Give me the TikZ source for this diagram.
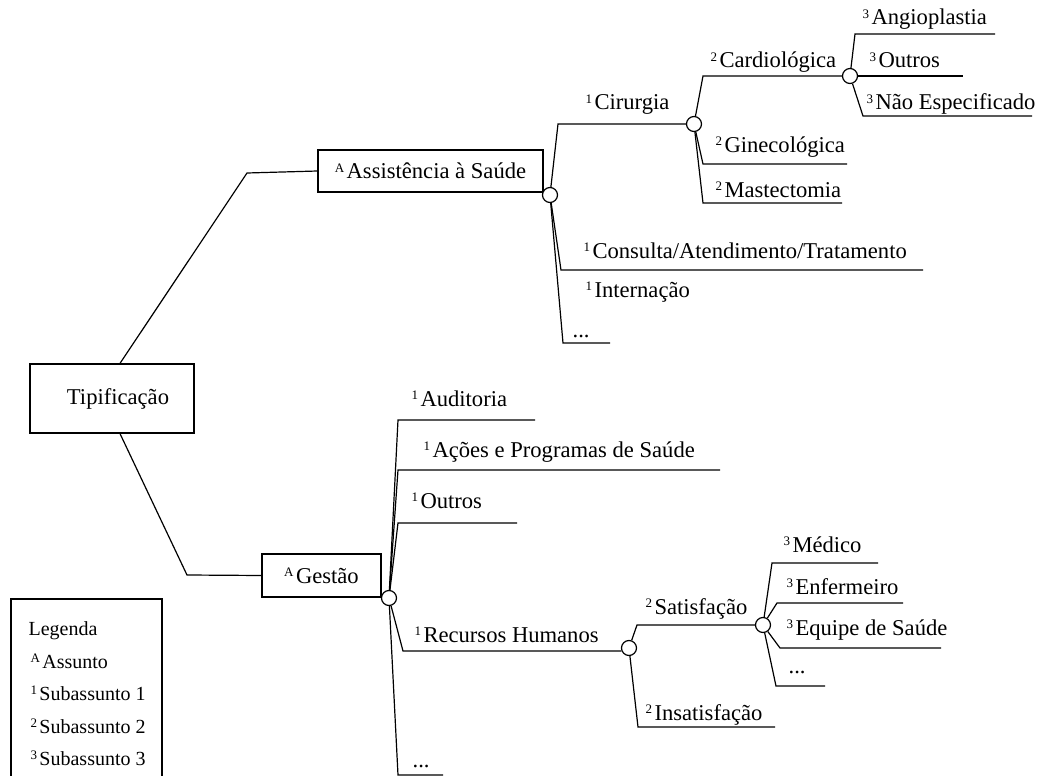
\documentclass[tikz,border=0pt]{standalone}
\usepackage{fontspec}
\setmainfont{Liberation Serif}
\usepackage{tikz}

\newcommand{\lvl}[1]{\raisebox{0.6ex}{\fontsize{6.5}{7}\selectfont #1}\kern1.2pt}

\begin{document}
\begin{tikzpicture}[x=0.5pt, y=-0.5pt, line width=0.6pt,
    font=\fontsize{11.3}{14}\selectfont,
    box/.style={draw, inner sep=0pt},
    junct/.style={draw, circle, fill=white, inner sep=0pt, minimum size=7.5pt},
    lbl/.style={anchor=base west, inner sep=0pt}]
        \useasboundingbox (0,0) rectangle (1041,776);
        % boxes
        \node[box, minimum width=82pt, minimum height=34.5pt] (tip) at (112,398.5) {\hspace*{6pt}Tipificação};
        \node[box, minimum width=112.5pt, minimum height=21pt] (asa) at (430.5,171) {\lvl{A}Assistência à Saúde};
        \node[box, minimum width=59.5pt, minimum height=21.5pt] (ges) at (321.5,575.5) {\lvl{A}Gestão};
        % junctions
        \node[junct] (c-asa) at (550,195) {};
        \node[junct] (c-cir) at (694,124) {};
        \node[junct] (c-car) at (850,76) {};
        \node[junct] (c-ges) at (389,598) {};
        \node[junct] (c-rh) at (629,648) {};
        \node[junct] (c-sat) at (763,625) {};
        % bends and line ends
        \coordinate (k-asa) at (247,173);
        \coordinate (k-ges) at (187,575);
        \coordinate (k-cir) at (558,124);
        \coordinate (k-con) at (561,270);
        \coordinate (u-con) at (923,270);
        \coordinate (k-dots1) at (563,343);
        \coordinate (u-dots1) at (610,343);
        \coordinate (k-car) at (703,76);
        \coordinate (k-gin) at (703,164);
        \coordinate (u-gin) at (847,164);
        \coordinate (k-mas) at (703,203);
        \coordinate (u-mas) at (842,203);
        \coordinate (k-ang) at (855,34);
        \coordinate (u-ang) at (995,34);
        \coordinate (u-out3) at (963,76);
        \coordinate (k-nao) at (863,116);
        \coordinate (u-nao) at (1032,116);
        \coordinate (k-aud) at (398,420);
        \coordinate (u-aud) at (535,420);
        \coordinate (k-aco) at (398,470);
        \coordinate (u-aco) at (720,470);
        \coordinate (k-out1) at (398,523);
        \coordinate (u-out1) at (517,523);
        \coordinate (k-rh) at (403,651);
        \coordinate (k-dots2) at (398,775);
        \coordinate (u-dots2) at (443,775);
        \coordinate (k-sat) at (637,625);
        \coordinate (k-ins) at (638,727);
        \coordinate (u-ins) at (775,727);
        \coordinate (k-med) at (772,563);
        \coordinate (u-med) at (878,563);
        \coordinate (k-enf) at (777,603);
        \coordinate (u-enf) at (903,603);
        \coordinate (k-equ) at (780,648);
        \coordinate (u-equ) at (941,648);
        \coordinate (k-dots3) at (776,686);
        \coordinate (u-dots3) at (825,686);
        % connectors
        \draw ([xshift=4pt]tip.north) -- (k-asa) -- (asa.west);
        \draw ([xshift=4pt]tip.south) -- (k-ges) -- (ges.west);
        \draw (c-asa) -- (k-cir) -- (c-cir);
        \draw (c-asa) -- (k-con) -- (u-con);
        \draw (c-asa) -- (k-dots1) -- (u-dots1);
        \draw (c-cir) -- (k-car) -- (c-car);
        \draw (c-cir) -- (k-gin) -- (u-gin);
        \draw (c-cir) -- (k-mas) -- (u-mas);
        \draw (c-car) -- (k-ang) -- (u-ang);
        \draw (c-car) -- (u-out3);
        \draw (c-car) -- (k-nao) -- (u-nao);
        \draw (c-ges) -- (k-aud) -- (u-aud);
        \draw (c-ges) -- (k-aco) -- (u-aco);
        \draw (c-ges) -- (k-out1) -- (u-out1);
        \draw (c-ges) -- (k-rh) -- (c-rh.202);
        \draw (c-ges) -- (k-dots2) -- (u-dots2);
        \draw (c-rh) -- (k-sat) -- (c-sat);
        \draw (c-rh) -- (k-ins) -- (u-ins);
        \draw (c-sat) -- (k-med) -- (u-med);
        \draw (c-sat) -- (k-enf) -- (u-enf);
        \draw (c-sat) -- (k-equ) -- (u-equ);
        \draw (c-sat) -- (k-dots3) -- (u-dots3);
        % labels
        \node[lbl] (t-cir) at (585,110) {\lvl{1}Cirurgia};
        \node[lbl] (t-car) at (710,68) {\lvl{2}Cardiológica};
        \node[lbl] (t-gin) at (715,152) {\lvl{2}Ginecológica};
        \node[lbl] (t-mas) at (715,197) {\lvl{2}Mastectomia};
        \node[lbl] (t-ang) at (862,25) {\lvl{3}Angioplastia};
        \node[lbl] (t-out3) at (869,68) {\lvl{3}Outros};
        \node[lbl] (t-nao) at (866,110) {\lvl{3}Não Especificado};
        \node[lbl] (t-con) at (583,258) {\lvl{1}Consulta/Atendimento/Tratamento};
        \node[lbl] (t-int) at (585,297) {\lvl{1}Internação};
        \node[lbl] (t-dots1) at (572,337) {...};
        \node[lbl] (t-aud) at (411,406) {\lvl{1}Auditoria};
        \node[lbl] (t-aco) at (423,457) {\lvl{1}Ações e Programas de Saúde};
        \node[lbl] (t-out1) at (411,508) {\lvl{1}Outros};
        \node[lbl] (t-rh) at (414,642) {\lvl{1}Recursos Humanos};
        \node[lbl] (t-dots2) at (412,767) {...};
        \node[lbl] (t-sat) at (645,614) {\lvl{2}Satisfação};
        \node[lbl] (t-ins) at (645,720) {\lvl{2}Insatisfação};
        \node[lbl] (t-med) at (783,552) {\lvl{3}Médico};
        \node[lbl] (t-enf) at (786,594) {\lvl{3}Enfermeiro};
        \node[lbl] (t-equ) at (786,635) {\lvl{3}Equipe de Saúde};
        \node[lbl] (t-dots3) at (788,673) {...};
        % legend
        \draw (11,780) -- (11,599) -- (162,599) -- (162,780);
        \node[lbl, font=\fontsize{10}{12}\selectfont] (leg) at (28,635) {Legenda};
        \node[lbl, font=\fontsize{10}{12}\selectfont] (leg-a) at (30,668) {\lvl{A}Assunto};
        \node[lbl, font=\fontsize{10}{12}\selectfont] (leg-1) at (30,700) {\lvl{1}Subassunto 1};
        \node[lbl, font=\fontsize{10}{12}\selectfont] (leg-2) at (30,733) {\lvl{2}Subassunto 2};
        \node[lbl, font=\fontsize{10}{12}\selectfont] (leg-3) at (30,765) {\lvl{3}Subassunto 3};
\end{tikzpicture}
\end{document}
